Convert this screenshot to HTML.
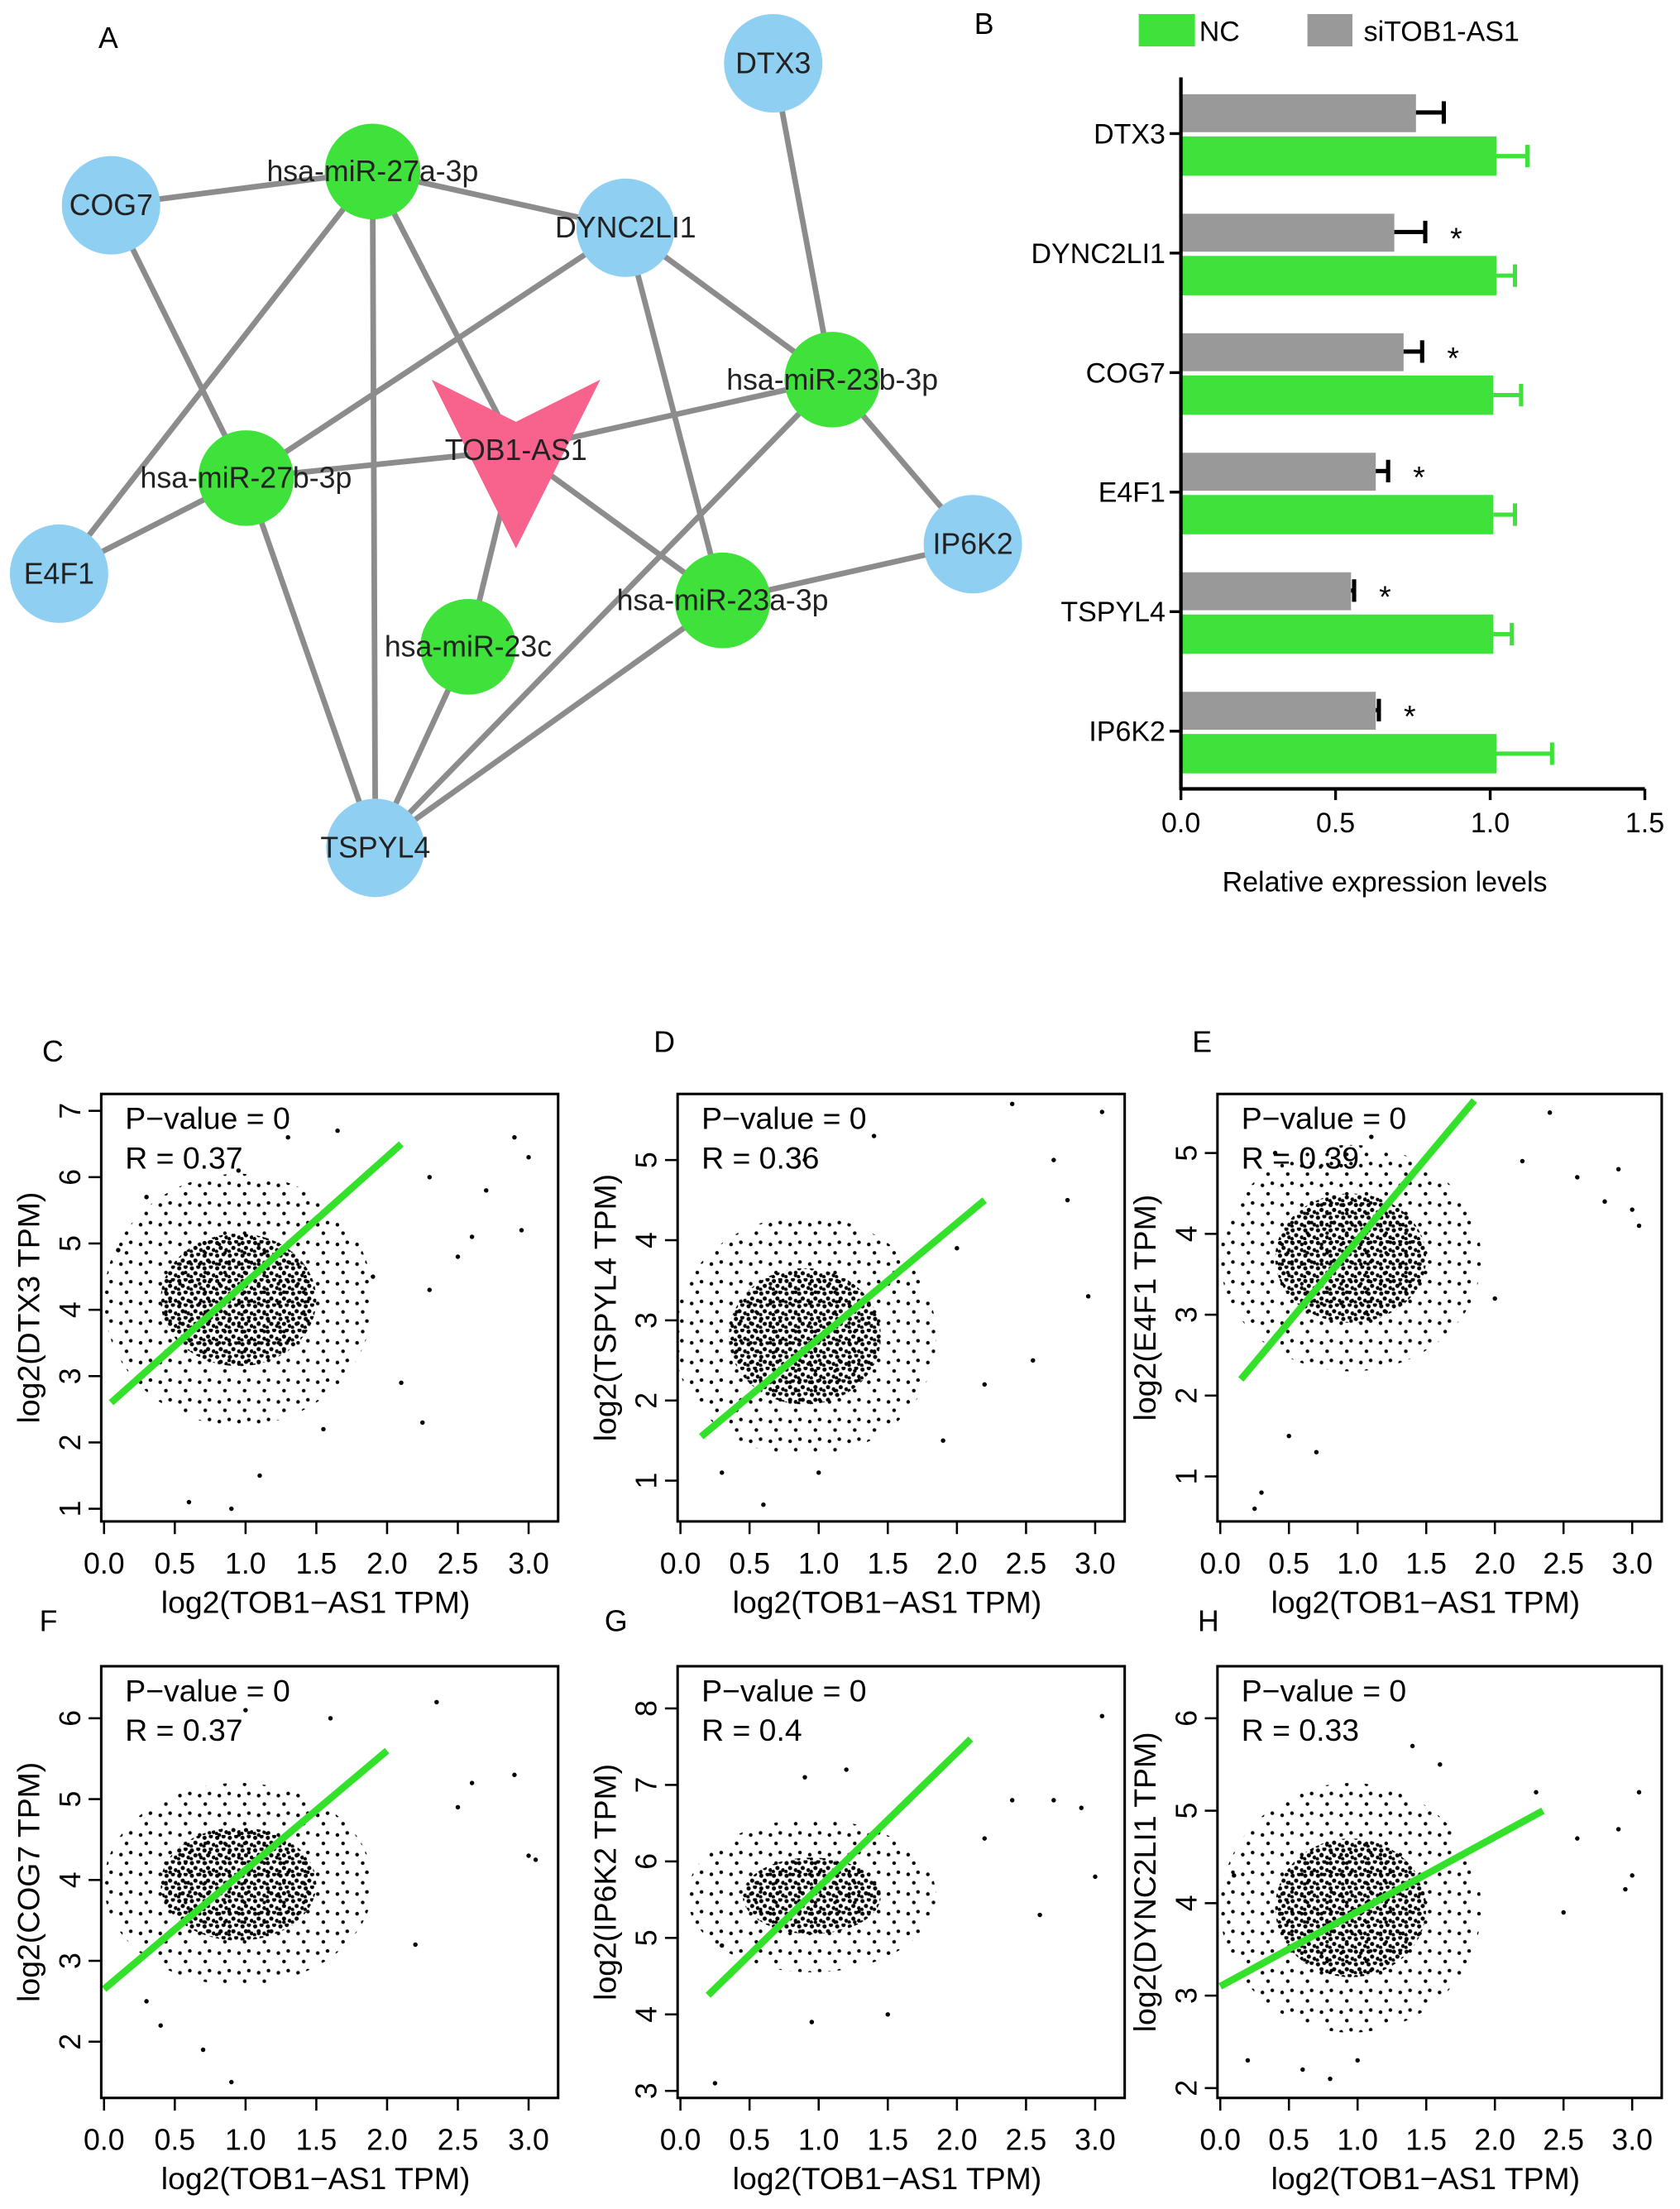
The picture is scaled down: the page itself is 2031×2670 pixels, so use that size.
<!DOCTYPE html>
<html><head><meta charset="utf-8"><style>
html,body{margin:0;padding:0;background:#fff;}
svg{display:block;font-family:"Liberation Sans",Arial,sans-serif;}
</style></head><body>
<svg id="fig" width="2031" height="2670" viewBox="0 0 1195 1571" xmlns="http://www.w3.org/2000/svg">
<defs>
<pattern id="dense" width="9" height="9" patternUnits="userSpaceOnUse">
<circle cx="1.5" cy="2" r="1.5" fill="#000"/><circle cx="6" cy="1" r="1.5" fill="#000"/><circle cx="4" cy="5.5" r="1.5" fill="#000"/><circle cx="8" cy="7" r="1.4" fill="#000"/><circle cx="1" cy="8" r="1.3" fill="#000"/>
</pattern>
<pattern id="sparse" width="14" height="14" patternUnits="userSpaceOnUse">
<circle cx="2" cy="3" r="1.3" fill="#000"/><circle cx="9" cy="1.5" r="1.3" fill="#000"/><circle cx="6" cy="9" r="1.3" fill="#000"/>
</pattern>
</defs>
<g id="netA"></g>
<g id="barB"></g>
<g id="scat"></g>
</svg>
<script>
const NS="http://www.w3.org/2000/svg";
function mk(tag,attrs,parent,text){const e=document.createElementNS(NS,tag);for(const k in attrs)e.setAttribute(k,attrs[k]);if(text!==undefined)e.textContent=text;parent.appendChild(e);return e;}

/* ---------- Panel A network ---------- */
const nodeNames=["DTX3","COG7","hsa-miR-27a-3p","DYNC2LI1","hsa-miR-23b-3p","hsa-miR-27b-3p","TOB1-AS1","E4F1","IP6K2","hsa-miR-23a-3p","hsa-miR-23c","TSPYL4"];
const nodeTypes=["gene","gene","mir","gene","mir","mir","lnc","gene","gene","mir","mir","gene"];
const nodeX=[550,79,265,445,592,175,367,42,692,514,333,267];
const nodeY=[45,146,122,162,270,340,320,408,387,427,460,603];
const edges=[[1,2],[2,3],[2,7],[2,6],[2,11],[1,5],[5,3],[5,7],[5,6],[5,11],[0,4],[3,4],[3,9],[6,4],[6,9],[6,10],[4,8],[4,11],[9,8],[9,11],[10,11]];
const A=document.getElementById('netA');
mk('text',{x:70,y:34,'font-size':21},A,'A');
edges.forEach(e=>{const l=mk('line',{x1:nodeX[e[0]],y1:nodeY[e[0]],x2:nodeX[e[1]],y2:nodeY[e[1]],stroke:'#8c8c8c','stroke-width':4},A);

});
nodeNames.forEach((n,i)=>{const x=nodeX[i],y=nodeY[i];
 if(nodeTypes[i]==='lnc'){const p=mk('polygon',{points:`${x-60},${y-50} ${x},${y-20} ${x+60},${y-50} ${x},${y+70}`,fill:'#f7638c'},A);
  
  }
 else{const c=mk('circle',{cx:x,cy:y,r:nodeTypes[i]==='mir'?34:35,fill:nodeTypes[i]==='mir'?'#3ee23a':'#8fd0f2'},A);
  
  }
 const t=mk('text',{x:x,y:y+7,'font-size':21,'text-anchor':'middle',fill:'#222'},A,n);
 
 });

/* ---------- Panel B bars ---------- */
const barCats=["DTX3","DYNC2LI1","COG7","E4F1","TSPYL4","IP6K2"];
const siVals=[0.76,0.69,0.72,0.63,0.55,0.63];
const siErr=[0.09,0.10,0.06,0.04,0.01,0.01];
const ncVals=[1.02,1.02,1.01,1.01,1.01,1.02];
const ncErr=[0.10,0.06,0.09,0.07,0.06,0.18];
const sig=[false,true,true,true,true,true];
const bTicks=[0,0.5,1.0,1.5];
const B=document.getElementById('barB');
const bx=v=>840+v*220, by=i=>95+i*85;
mk('text',{x:693,y:24,'font-size':21},B,'B');
let lg=mk('rect',{x:810,y:10,width:40,height:23,fill:'#3ee23a'},B);
mk('text',{x:853,y:29,'font-size':20},B,'NC');
lg=mk('rect',{x:930,y:10,width:32,height:23,fill:'#999'},B);
mk('text',{x:970,y:29,'font-size':20},B,'siTOB1-AS1');
barCats.forEach((c,i)=>{const y=by(i);
 let r=mk('rect',{x:bx(0),y:y-28,width:bx(siVals[i])-bx(0),height:27,fill:'#999'},B);
 
 
 mk('line',{x1:bx(siVals[i]),y1:y-15,x2:bx(siVals[i]+siErr[i]),y2:y-15,stroke:'#000','stroke-width':3},B);
 mk('line',{x1:bx(siVals[i]+siErr[i]),y1:y-23,x2:bx(siVals[i]+siErr[i]),y2:y-7,stroke:'#000','stroke-width':3},B);
 r=mk('rect',{x:bx(0),y:y+2,width:bx(ncVals[i])-bx(0),height:28,fill:'#3ee23a'},B);
 
 
 mk('line',{x1:bx(ncVals[i]),y1:y+16,x2:bx(ncVals[i]+ncErr[i]),y2:y+16,stroke:'#3ee23a','stroke-width':3},B);
 mk('line',{x1:bx(ncVals[i]+ncErr[i]),y1:y+8,x2:bx(ncVals[i]+ncErr[i]),y2:y+24,stroke:'#3ee23a','stroke-width':3},B);
 if(sig[i]){const s=mk('text',{x:bx(siVals[i]+siErr[i])+22,y:y-3,'font-size':22,'text-anchor':'middle'},B,'*');}
 mk('line',{x1:832,y1:y,x2:840,y2:y,stroke:'#000','stroke-width':2},B);
 const t=mk('text',{x:829,y:y+7,'font-size':20,'text-anchor':'end'},B,c);
});
mk('line',{x1:840,y1:55,x2:840,y2:562,stroke:'#000','stroke-width':2.5},B);
mk('line',{x1:840,y1:561,x2:bx(1.5),y2:561,stroke:'#000','stroke-width':2.5},B);
bTicks.forEach(v=>{mk('line',{x1:bx(v),y1:561,x2:bx(v),y2:569,stroke:'#000','stroke-width':2},B);
 const t=mk('text',{x:bx(v),y:592,'font-size':20,'text-anchor':'middle'},B,v.toFixed(1));});
mk('text',{x:985,y:634,'font-size':20,'text-anchor':'middle'},B,'Relative expression levels');

/* ---------- Scatter panels ---------- */
const panelLetters=["C","D","E","F","G","H"];
const geneNames=["DTX3","TSPYL4","E4F1","COG7","IP6K2","DYNC2LI1"];
const rValues=["0.37","0.36","0.39","0.37","0.4","0.33"];
const yTickSets=[[1,2,3,4,5,6,7],[1,2,3,4,5],[1,2,3,4,5],[2,3,4,5,6],[3,4,5,6,7,8],[2,3,4,5,6]];
const xTicks=[0,0.5,1,1.5,2,2.5,3];
const lineStart=[[0.05,2.6],[0.15,1.55],[0.15,2.2],[0,2.65],[0.2,4.25],[0,3.1]];
const lineEnd=[[2.1,6.5],[2.2,4.5],[1.85,5.65],[2.0,5.6],[2.1,7.6],[2.35,5.0]];
const cloudCenter=[[0.95,4.15],[0.9,2.8],[0.95,3.7],[0.95,3.95],[0.95,5.55],[0.95,3.95]];
const cloudSpread=[[0.55,1.0,0.95,1.9],[0.55,0.85,0.95,1.5],[0.55,0.8,0.95,1.4],[0.55,0.7,0.95,1.25],[0.5,0.5,0.9,1.0],[0.55,0.75,0.95,1.35]];
const outliers=[
 [[0.1,4.9],[0.3,5.7],[0.95,6.1],[1.3,6.6],[1.65,6.7],[2.3,6.0],[2.7,5.8],[2.9,6.6],[3.0,6.3],[2.95,5.2],[2.6,5.1],[2.3,4.3],[2.1,2.9],[2.25,2.3],[1.55,2.2],[0.9,1.0],[0.6,1.1],[1.1,1.5],[1.9,4.5],[2.5,4.8]],
 [[2.4,5.7],[2.7,5.0],[3.05,5.6],[2.95,3.3],[2.55,2.5],[0.9,5.0],[1.4,5.3],[2.0,3.9],[2.2,2.2],[0.6,0.7],[1.0,1.1],[0.3,1.1],[1.9,1.5],[2.8,4.5]],
 [[0.25,0.6],[0.3,0.8],[0.5,1.5],[0.7,1.3],[2.4,5.5],[2.6,4.7],[2.9,4.8],[3.0,4.3],[2.8,4.4],[3.05,4.1],[2.2,4.9],[1.1,5.2],[0.4,5.0],[2.0,3.2]],
 [[0.4,2.2],[0.9,1.5],[0.7,1.9],[2.35,6.2],[2.5,4.9],[2.9,5.3],[3.0,4.3],[3.05,4.25],[2.2,3.2],[1.6,6.0],[1.0,6.1],[0.3,2.5],[2.6,5.2]],
 [[0.25,3.1],[0.95,3.9],[1.5,4.0],[2.7,6.8],[2.9,6.7],[3.0,5.8],[3.05,7.9],[2.6,5.3],[2.4,6.8],[1.2,7.2],[0.9,7.1],[2.2,6.3],[0.3,4.9]],
 [[0.2,2.3],[0.6,2.2],[0.8,2.1],[1.0,2.3],[2.9,4.8],[3.05,5.2],[3.0,4.3],[2.95,4.15],[2.5,3.9],[2.6,4.7],[1.4,5.7],[1.6,5.5],[0.1,4.3],[2.3,5.2]]
];
const frames=[[72,778,397,1082],[482,778,800,1082],[866,778,1182,1082],[72,1185,397,1492],[482,1185,800,1492],[866,1185,1182,1492]];
const yPix=[[1073,790],[1053,825],[1050,820],[1452,1222],[1487,1215],[1485,1222]];
const letterPos=[[30,755],[465,748],[848,748],[28,1160],[430,1160],[852,1160]];
const S=document.getElementById('scat');
frames.forEach((f,p)=>{
 const g=mk('g',{},S);
 
 
 const [L,T,R,Bt]=f;const yt=yTickSets[p];
 const x0=L+2,x3=R-21;
 const X=v=>x0+v*(x3-x0)/3;
 const yA=yt[0],yB=yt[yt.length-1];
 const Y=v=>yPix[p][0]+(v-yA)*(yPix[p][1]-yPix[p][0])/(yB-yA);
 const clip=mk('clipPath',{id:'clip'+p},g);
 mk('rect',{x:L,y:T,width:R-L,height:Bt-T},clip);
 const cc=cloudCenter[p],cs=cloudSpread[p];
 const cg=mk('g',{'clip-path':`url(#clip${p})`},g);
 let e=mk('ellipse',{cx:X(cc[0]),cy:Y(cc[1]),rx:X(cs[2])-X(0),ry:Math.abs(Y(cs[3])-Y(0)),fill:'url(#sparse)'},cg);
 
 e=mk('ellipse',{cx:X(cc[0]),cy:Y(cc[1]),rx:X(cs[0])-X(0),ry:Math.abs(Y(cs[1])-Y(0)),fill:'url(#dense)'},cg);
 
 outliers[p].forEach(pt=>{const c=mk('circle',{cx:X(pt[0]),cy:Y(pt[1]),r:1.6,fill:'#000'},cg);
  });
 const ln=mk('line',{x1:X(lineStart[p][0]),y1:Y(lineStart[p][1]),x2:X(lineEnd[p][0]),y2:Y(lineEnd[p][1]),stroke:'#33e02a','stroke-width':5},cg);
 
 mk('rect',{x:L,y:T,width:R-L,height:Bt-T,fill:'none',stroke:'#000','stroke-width':1.8},g);
 mk('text',{x:L+17,y:T+25,'font-size':22},g,'P\u2212value = 0');
 mk('text',{x:L+17,y:T+53,'font-size':22},g,'R = '+rValues[p]);
 yt.forEach(v=>{mk('line',{x1:L-9,y1:Y(v),x2:L,y2:Y(v),stroke:'#000','stroke-width':1.5},g);
  const t=mk('text',{x:L-15,y:Y(v),'font-size':21,'text-anchor':'middle',transform:`rotate(-90 ${L-15} ${Y(v)})`},g,String(v));
  });
 xTicks.forEach(v=>{mk('line',{x1:X(v),y1:Bt,x2:X(v),y2:Bt+9,stroke:'#000','stroke-width':1.5},g);
  const t=mk('text',{x:X(v),y:Bt+37,'font-size':21,'text-anchor':'middle'},g,v.toFixed(1));
  });
 mk('text',{x:(L+R)/2-10,y:Bt+65,'font-size':22,'text-anchor':'middle'},g,'log2(TOB1\u2212AS1 TPM)');
 const my=(T+Bt)/2,mx=L-44;
 mk('text',{x:mx,y:my,'font-size':22,'text-anchor':'middle',transform:`rotate(-90 ${mx} ${my})`},g,'log2('+geneNames[p]+' TPM)');
 mk('text',{x:letterPos[p][0],y:letterPos[p][1],'font-size':21},g,panelLetters[p]);
});
</script>
</body></html>
